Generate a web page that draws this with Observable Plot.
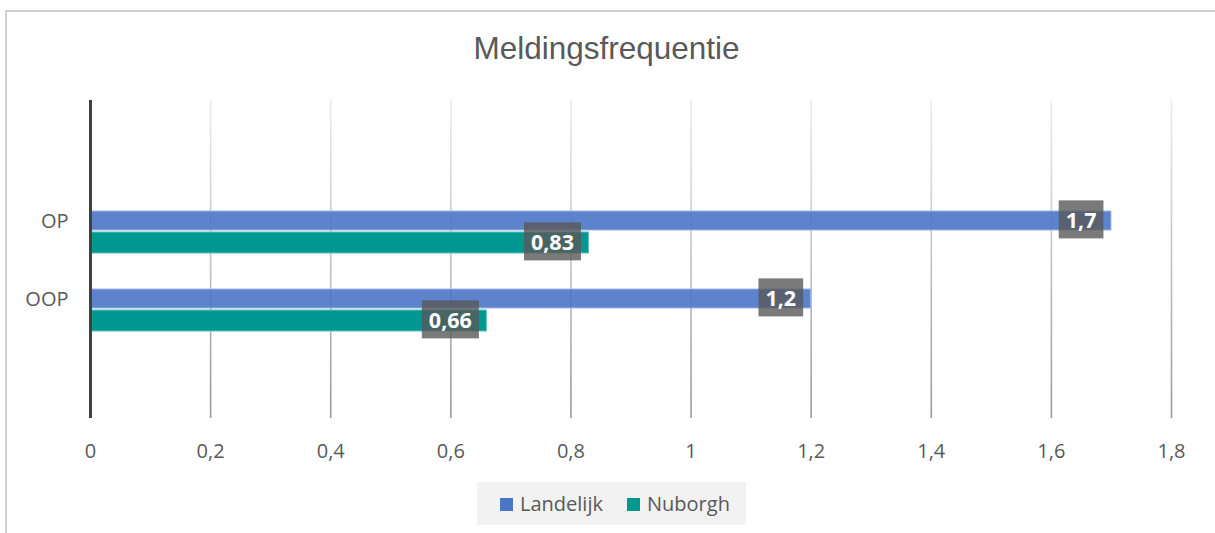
<!DOCTYPE html>
<html>
<head>
<meta charset="utf-8">
<script src="https://cdn.jsdelivr.net/npm/d3@7"></script>
<script src="https://cdn.jsdelivr.net/npm/@observablehq/plot@0.6"></script>
<style>
  body { margin: 0; background: #fff; }
  #wrap { position: relative; width: 1215px; height: 533px; overflow: hidden; font-family: 'Open Sans', sans-serif; }
  #border { position: absolute; left: 5px; top: 10px; width: 1300px; height: 600px; border-top: 2px solid #cfcfcf; border-left: 2px solid #cfcfcf; }
  #title { position: absolute; left: 0; width: 1213px; top: 33px; text-align: center; font-family: 'Liberation Sans', Arial, sans-serif; font-size: 31.5px; line-height: 1; color: #595959; }
  #chart { position: absolute; left: 0; top: 0; }
  #legend { position: absolute; left: 477px; top: 482px; width: 269px; height: 43px; background: #f2f2f2; }
  .sw { position: absolute; top: 16px; width: 13px; height: 13px; }
  .lt { position: absolute; top: 12px; font-size: 20px; line-height: 20px; color: #595959; white-space: nowrap; }
</style>
</head>
<body>
<div id="wrap">
  <div id="border"></div>
  <div id="chart"></div>
  <div id="title">Meldingsfrequentie</div>
  <div id="legend"></div>
</div>
<script>
// ---- data ----
const categories = ["OP", "OOP"];
const landelijk = [1.7, 1.2];
const nuborgh = [0.83, 0.66];
const seriesNames = ["Landelijk", "Nuborgh"];
const seriesColors = ["#4a76c6", "#009891"];
const xTicks = [0, 0.2, 0.4, 0.6, 0.8, 1, 1.2, 1.4, 1.6, 1.8];

const fmt = d => String(d).replace(".", ",");
const rows = categories.map((c, i) => ({cat: c, Landelijk: landelijk[i], Nuborgh: nuborgh[i]}));

const plot = Plot.plot({
  width: 1215,
  height: 470,
  marginTop: 100,
  marginBottom: 52,
  marginLeft: 90,
  marginRight: 44,
  style: {fontFamily: "'Open Sans', sans-serif", background: "transparent", overflow: "visible"},
  x: {domain: [0, 1.8]},
  y: {type: "band", domain: categories, paddingInner: 0.4615, paddingOuter: 1.269, align: 0.5606},
  marks: [
    Plot.gridX(xTicks.slice(1), {stroke: "url(#gridgrad)", strokeOpacity: 1, strokeWidth: 1.6}),
    Plot.axisX(xTicks, {tickSize: 0, tickPadding: 25, fontSize: 20, fill: "#595959", tickFormat: fmt, label: null}),
    Plot.axisY(categories, {tickSize: 0, tickPadding: 22, fontSize: 20, fill: "#595959", dy: -11, label: null}),
    Plot.barX(rows, {y: "cat", x: "Landelijk", fill: seriesColors[0], fillOpacity: 0.9, stroke: "#9fb5e2", strokeWidth: 1, insetBottom: 23}),
    Plot.barX(rows, {y: "cat", x: "Nuborgh", fill: seriesColors[1], stroke: "#5fc0ba", strokeWidth: 1, insetTop: 21}),
    Plot.ruleX([0], {stroke: "#404040", strokeWidth: 3}),
    Plot.text(rows, {y: "cat", x: "Landelijk", text: d => fmt(d.Landelijk), textAnchor: "end", dx: -15, dy: -11.5, fill: "white", fontWeight: "bold", fontSize: 21.5, ariaLabel: "vlabel"}),
    Plot.text(rows, {y: "cat", x: "Nuborgh", text: d => fmt(d.Nuborgh), textAnchor: "end", dx: -15, dy: 10.5, fill: "white", fontWeight: "bold", fontSize: 21.5, ariaLabel: "vlabel"})
  ]
});

document.getElementById("chart").append(plot);

// gradient for gridlines
const defs = d3.select(plot).insert("defs", ":first-child");
const grad = defs.append("linearGradient")
  .attr("id", "gridgrad")
  .attr("gradientUnits", "userSpaceOnUse")
  .attr("x1", 0).attr("y1", 100).attr("x2", 0).attr("y2", 418);
grad.append("stop").attr("offset", 0).attr("stop-color", "#ececec");
grad.append("stop").attr("offset", 1).attr("stop-color", "#999999");

// label boxes behind value labels (bold texts)
const labelTexts = Array.from(plot.querySelectorAll("text")).filter(t => {
  const fw = getComputedStyle(t).fontWeight;
  return fw === "bold" || Number(fw) >= 600;
});
labelTexts.forEach(t => {
  const bb = t.getBBox();
  const cy = bb.y + bb.height / 2;
  const r = document.createElementNS("http://www.w3.org/2000/svg", "rect");
  r.setAttribute("x", bb.x - 7);
  r.setAttribute("y", cy - 19);
  r.setAttribute("width", bb.width + 14);
  r.setAttribute("height", 38);
  r.setAttribute("style", "fill:#595959;fill-opacity:0.8;stroke:none");
  const tr = t.getAttribute("transform");
  if (tr) r.setAttribute("transform", tr);
  t.parentNode.insertBefore(r, t);
});

// legend
const legend = d3.select("#legend");
const swLeft = [23, 150];
const txLeft = [43, 170];
seriesNames.forEach((name, i) => {
  legend.append("div").attr("class", "sw").style("left", swLeft[i] + "px").style("background", seriesColors[i]);
  legend.append("div").attr("class", "lt").style("left", txLeft[i] + "px").text(name);
});
</script>
</body>
</html>
